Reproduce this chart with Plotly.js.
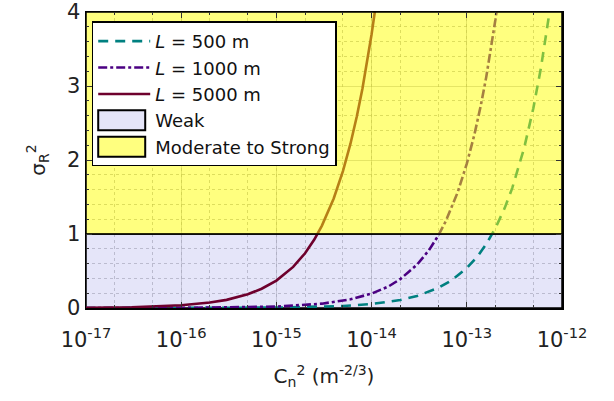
<!DOCTYPE html>
<html>
<head>
<meta charset="utf-8">
<script src="https://cdn.plot.ly/plotly-3.0.1.min.js"></script>
<style>html,body{margin:0;padding:0;background:#fff;}#chart{width:614px;height:401px;}</style>
</head>
<body>
<div id="chart"></div>
<script>
// Data
const seriesNames = ['<i>L</i> = 500 m', '<i>L</i> = 1000 m', '<i>L</i> = 5000 m'];
const cn2_500  = [1e-17, 1e-16, 1e-15, 5e-15, 1e-14, 2e-14, 3e-14, 5e-14, 7e-14, 1e-13, 1.3e-13, 1.6e-13, 2e-13, 2.5e-13, 3e-13, 4e-13, 5e-13, 6e-13, 7e-13, 7.5e-13];
const sig_500  = [0.00005, 0.0005, 0.0054, 0.027, 0.054, 0.108, 0.162, 0.27, 0.378, 0.54, 0.70, 0.864, 1.08, 1.35, 1.62, 2.16, 2.7, 3.24, 3.78, 4.05];
const cn2_1000 = [1e-17, 1e-16, 1e-15, 3e-15, 6e-15, 1e-14, 1.5e-14, 2e-14, 3e-14, 4e-14, 5e-14, 6e-14, 8e-14, 1e-13, 1.2e-13, 1.4e-13, 1.6e-13, 1.8e-13, 2e-13, 2.1e-13];
const sig_1000 = [0.0002, 0.002, 0.0195, 0.0585, 0.117, 0.195, 0.29, 0.39, 0.585, 0.78, 0.975, 1.17, 1.56, 1.95, 2.34, 2.73, 3.12, 3.51, 3.9, 4.1];
const cn2_5000 = [1e-17, 3e-17, 1e-16, 2e-16, 3e-16, 5e-16, 7e-16, 1e-15, 1.5e-15, 2e-15, 2.5e-15, 3e-15, 4e-15, 5e-15, 6e-15, 7e-15, 8e-15, 9e-15, 1e-14, 1.1e-14];
const sig_5000 = [0.0037, 0.011, 0.037, 0.074, 0.11, 0.185, 0.26, 0.37, 0.555, 0.74, 0.925, 1.11, 1.48, 1.85, 2.22, 2.59, 2.96, 3.33, 3.7, 4.07];
const regimeNames = ['Weak', 'Moderate to Strong'];
const regimeBounds = [0, 1, 4];
const xTickVals = [1e-17, 1e-16, 1e-15, 1e-14, 1e-13, 1e-12];
const xTickText = ['10<sup>-17</sup>', '10<sup>-16</sup>', '10<sup>-15</sup>', '10<sup>-14</sup>', '10<sup>-13</sup>', '10<sup>-12</sup>'];
const xLimits = [1e-17, 1e-12];

const FONT = 'DejaVu Sans, Verdana, sans-serif';
const colWeak = 'rgba(190,190,240,0.4)';
const colStrong = 'rgba(255,255,0,0.5)';

function rectX(a, b) { return [a, b, b, a, a]; }
function rectY(a, b) { return [a, a, b, b, a]; }

const traces = [
  {x: rectX(xLimits[0], xLimits[1]), y: rectY(regimeBounds[0], regimeBounds[1]),
   name: regimeNames[0], mode: 'lines', fill: 'toself', legendrank: 4,
   fillcolor: colWeak, line: {color: '#000', width: 1.5}},
  {x: cn2_500, y: sig_500, name: seriesNames[0], mode: 'lines', legendrank: 1,
   line: {color: 'rgb(0,128,128)', width: 2.6, dash: '10px,7px'}},
  {x: cn2_1000, y: sig_1000, name: seriesNames[1], mode: 'lines', legendrank: 2,
   line: {color: 'rgb(75,0,130)', width: 2.6, dash: '9px,3px,3px,3px'}},
  {x: cn2_5000, y: sig_5000, name: seriesNames[2], mode: 'lines', legendrank: 3,
   line: {color: 'rgb(110,0,45)', width: 2.6}},
  {x: rectX(xLimits[0], xLimits[1]), y: rectY(regimeBounds[1], regimeBounds[2]),
   name: regimeNames[1], mode: 'lines', fill: 'toself', legendrank: 5,
   fillcolor: colStrong, line: {color: '#000', width: 1.5}}
];

const layout = {
  width: 614, height: 401,
  margin: {l: 86, r: 52, t: 12, b: 93},
  paper_bgcolor: '#fff', plot_bgcolor: '#fff',
  font: {family: FONT, color: '#222', size: 20},
  showlegend: true,
  legend: {x: 0.012, y: 0.968, xanchor: 'left', yanchor: 'top', bgcolor: '#fff',
           bordercolor: '#000', borderwidth: 1.5, font: {family: FONT, size: 18, color: '#111'},
           itemwidth: 52, tracegroupgap: 0},
  xaxis: {type: 'log', range: [Math.log10(xLimits[0]), Math.log10(xLimits[1])],
          tickvals: xTickVals, ticktext: xTickText, tickfont: {size: 21},
          ticklabelstandoff: 12,
          showline: true, linecolor: '#000', linewidth: 1.5, mirror: 'ticks',
          ticks: 'inside', ticklen: 6, tickcolor: '#333',
          showgrid: true, gridcolor: 'rgba(150,150,150,0.5)', gridwidth: 1,
          minor: {ticks: 'inside', ticklen: 3, tickcolor: '#333', showgrid: true,
                  gridcolor: 'rgba(140,140,140,0.6)', griddash: 'dot', gridwidth: 1},
          zeroline: false,
          title: {text: 'C<sub>n</sub><sup>2</sup> (m<sup>-2/3</sup>)', font: {size: 20}, standoff: 18}},
  yaxis: {range: [0, 4], dtick: 1, tickfont: {size: 21},
          showline: true, linecolor: '#000', linewidth: 1.5, mirror: 'ticks',
          ticks: 'inside', ticklen: 6, tickcolor: '#333',
          showgrid: true, gridcolor: 'rgba(150,150,150,0.5)', gridwidth: 1,
          minor: {dtick: 0.2, ticks: 'inside', ticklen: 3, tickcolor: '#333', showgrid: true,
                  gridcolor: 'rgba(140,140,140,0.6)', griddash: 'dot', gridwidth: 1},
          zeroline: false,
          title: {text: 'σ<sub>R</sub><sup>2</sup>', font: {size: 20}, standoff: 16}}
};

Plotly.newPlot('chart', traces, layout, {staticPlot: true, displayModeBar: false}).then(function (gd) {
  // Draw the region legend symbols as bordered boxes, like the reference
  const items = gd.querySelectorAll('.legend .traces');
  items.forEach(function (item) {
    const fill = item.querySelector('.legendfill path');
    if (!fill) return;
    const boxD = 'M5,-10h47v20h-47z';
    fill.setAttribute('d', boxD);
    const ln = item.querySelector('.legendlines path');
    if (ln) {
      ln.setAttribute('d', boxD);
      ln.style.fill = 'none';
      ln.style.strokeWidth = '2px';
    }
  });
});
</script>
</body>
</html>
